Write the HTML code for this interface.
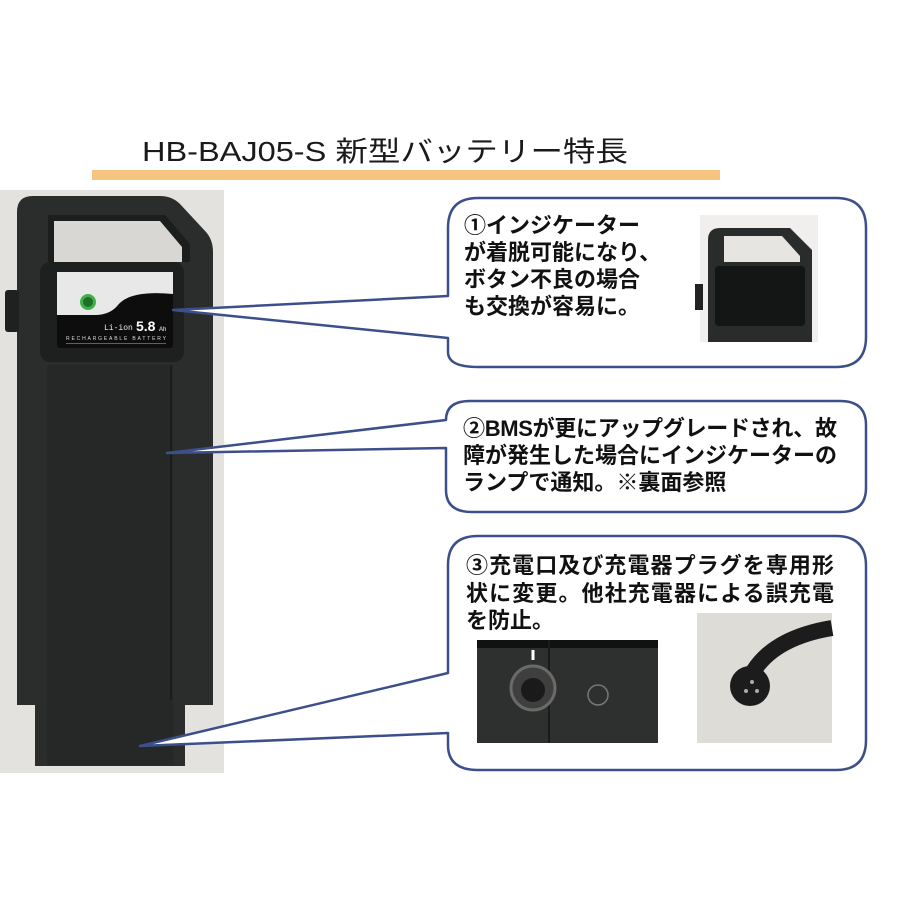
<!DOCTYPE html>
<html><head><meta charset="utf-8"><style>
html,body{margin:0;padding:0;background:#fff;}
svg{display:block}
.t{font-family:"Liberation Sans","Noto Sans CJK JP",sans-serif;font-weight:bold;font-size:22px;fill:#111;}
</style></head><body>
<svg width="900" height="900" viewBox="0 0 900 900" xmlns="http://www.w3.org/2000/svg">
<rect width="900" height="900" fill="#fff"/>
<text x="142" y="161" font-family="'Liberation Sans','Noto Sans CJK JP',sans-serif" font-size="28" fill="#1a1a1a" textLength="486" lengthAdjust="spacingAndGlyphs">HB-BAJ05-S 新型バッテリー特長</text>
<rect x="92" y="170" width="628" height="10" fill="#f5c47f"/>

<!-- battery photo -->
<rect x="0" y="190" width="224" height="583" fill="#e4e2df"/>
<path d="M17,212 Q17,196 33,196 L160,196 Q172,196 180,204 L206,232 Q213,240 213,252 L213,705 L185,705 L185,766 L35,766 L35,705 L17,705 Z" fill="#2b2d2d"/>
<path d="M48,215 L165,215 L190,244 L190,262 L48,262 Z" fill="#1c1d1d"/>
<path d="M54,221 L160,221 L182,247 L182,262 L54,262 Z" fill="#d8d7d3"/>
<rect x="5" y="290" width="14" height="42" rx="3" fill="#1f2020"/>
<rect x="40" y="262" width="144" height="100" rx="10" fill="#1e1f1f"/>
<rect x="57" y="272" width="116" height="76" rx="3" fill="#0d0d0d"/>
<path d="M57,272 L173,272 L173,294 Q130,290 118,305 Q110,315 95,315 L57,315 Z" fill="#e8e8e8"/>
<circle cx="88" cy="302" r="8" fill="#3fb04a"/>
<circle cx="88" cy="302" r="5" fill="#1d6e27"/>
<text x="104" y="330" font-family="'Liberation Mono',monospace" font-size="8" fill="#eee">Li-ion</text>
<text x="136" y="331" font-family="'Liberation Sans',sans-serif" font-weight="bold" font-size="14" fill="#fff">5.8</text>
<text x="159" y="331" font-family="'Liberation Sans',sans-serif" font-size="6" fill="#fff">Ah</text>
<text x="66" y="340" font-family="'Liberation Sans',sans-serif" font-size="5" fill="#ddd" textLength="100">RECHARGEABLE BATTERY</text>
<rect x="66" y="343" width="100" height="1" fill="#c0392b"/>
<rect x="47" y="365" width="126" height="400" fill="#262828"/>
<rect x="170" y="365" width="2" height="335" fill="#1b1c1c"/>

<!-- connectors / bubbles -->
<g fill="#fff" stroke="#3d4f8a" stroke-width="2.5" stroke-linejoin="round">
<path d="M448,296 L448,228 Q448,198 478,198 L836,198 Q866,198 866,228 L866,337 Q866,367 836,367 L478,367 Q448,367 448,352 L448,338 L173,310 Z"/>
<path d="M446,420 Q446,401 470,401 L840,401 Q866,401 866,425 L866,488 Q866,512 840,512 L472,512 Q446,512 446,490 L446,448 L167,453 Z"/>
<path d="M448,673 L448,565 Q448,536 478,536 L836,536 Q866,536 866,566 L866,740 Q866,770 836,770 L478,770 Q448,770 448,745 L448,733 L140,746 Z"/>
</g>

<text class="t" x="464" y="233">①インジケーター</text>
<text class="t" x="464" y="260">が着脱可能になり、</text>
<text class="t" x="464" y="287">ボタン不良の場合</text>
<text class="t" x="464" y="314">も交換が容易に。</text>

<!-- photo 1 -->
<rect x="700" y="215" width="118" height="127" fill="#f0efed"/>
<path d="M708,240 Q708,228 720,228 L790,228 L812,250 L812,342 L708,342 Z" fill="#2a2b2b"/>
<path d="M724,236 L782,236 L800,256 L800,262 L724,262 Z" fill="#e6e5e2"/>
<rect x="715" y="266" width="90" height="60" rx="4" fill="#141515"/>
<rect x="695" y="284" width="8" height="26" fill="#222"/>

<text class="t" x="463" y="436" textLength="374">②BMSが更にアップグレードされ、故</text>
<text class="t" x="463" y="463" textLength="374">障が発生した場合にインジケーターの</text>
<text class="t" x="463" y="490">ランプで通知。※裏面参照</text>

<text class="t" x="466" y="573" textLength="368">③充電口及び充電器プラグを専用形</text>
<text class="t" x="466" y="601" textLength="368">状に変更。他社充電器による誤充電</text>
<text class="t" x="466" y="628">を防止。</text>

<!-- photo 2 -->
<rect x="477" y="640" width="181" height="103" fill="#2e2f2f"/>
<rect x="477" y="640" width="181" height="8" fill="#111"/>
<rect x="548" y="640" width="2" height="103" fill="#1a1a1a"/>
<circle cx="533" cy="688" r="22" fill="#3e3f3e" stroke="#6a6a66" stroke-width="3"/>
<circle cx="533" cy="690" r="12" fill="#1a1a1a"/>
<circle cx="598" cy="695" r="10" fill="none" stroke="#777" stroke-width="1.5"/>
<path d="M533,650 L533,660" stroke="#fff" stroke-width="3"/>
<!-- photo 3 -->
<rect x="697" y="613" width="135" height="130" fill="#dedcd6"/>
<path d="M745,690 Q760,640 832,628" stroke="#1c1c1c" stroke-width="16" fill="none"/>
<circle cx="750" cy="686" r="20" fill="#1c1c1c"/>
<circle cx="752" cy="682" r="2" fill="#aaa"/><circle cx="746" cy="691" r="2" fill="#aaa"/><circle cx="757" cy="691" r="2" fill="#aaa"/>
</svg>
</body></html>
